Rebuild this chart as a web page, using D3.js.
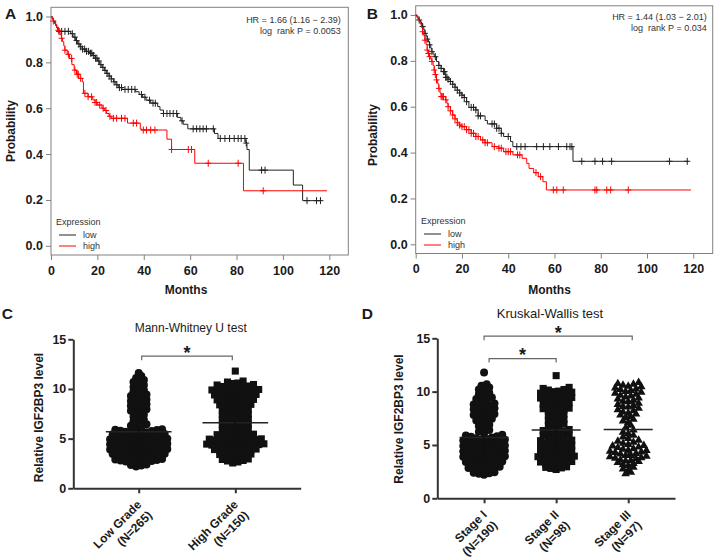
<!DOCTYPE html>
<html><head><meta charset="utf-8">
<script src="https://cdn.jsdelivr.net/npm/d3@7"></script>
<style>body{margin:0;background:#fff}svg{display:block}</style>
</head><body><svg id="c" width="718" height="559"></svg>
<script>
// ---------------- DATA ----------------
const monthTicks = [0, 20, 40, 60, 80, 100, 120];
const probTicks = [0, 0.2, 0.4, 0.6, 0.8, 1.0];
const levelTicks = [0, 5, 10, 15];
const expressionGroups = ["low", "high"];

// Panel A (time, survival after step)
const aLowSteps = [[0,1.0],[0.5,0.99],[1,0.98],[1.5,0.97],[2,0.96],[2.5,0.95],[3,0.935],[8.5,0.925],[9.5,0.91],[10.5,0.895],[11.5,0.88],[12.5,0.868],[13.5,0.858],[15,0.848],[16.5,0.84],[18,0.83],[19,0.818],[20,0.806],[21,0.79],[22,0.778],[23,0.765],[24,0.752],[25,0.74],[26,0.728],[27,0.715],[28,0.702],[29,0.69],[30.5,0.682],[36.5,0.672],[38,0.66],[39.5,0.648],[41,0.635],[43,0.622],[46,0.607],[47,0.592],[48.5,0.577],[54.5,0.56],[56,0.545],[57,0.53],[59,0.51],[70.5,0.49],[72,0.468],[84,0.448],[84.5,0.42],[85.5,0.33],[104.5,0.265],[108.5,0.197]];
const aLowEnd = 116.6;
const aLowCensor = [3.5,4.6,6,7.5,9.2,10.3,11,12,12.8,13.6,14.5,15.3,16.2,17,17.6,18.4,19.2,19.8,20.6,21.5,22.4,23.3,24.2,25.1,26,27.2,28.4,29.5,30.4,31.9,33.3,34.8,36.2,39,40.5,42.5,44,45,48.5,50,51.3,52.7,54.2,56.5,61.3,62.8,64.2,65.6,67,70,73,75,77,79,80.7,82,83.6,84.2,90.8,92.3,110.4,114.5,116.2];
const aHighSteps = [[0,1.0],[0.5,0.99],[1,0.98],[2,0.965],[2.5,0.95],[3,0.94],[3.5,0.93],[4,0.92],[4.5,0.905],[5,0.89],[5.5,0.872],[6,0.853],[7,0.835],[8,0.817],[9,0.79],[10,0.766],[11,0.748],[12,0.73],[13.5,0.715],[14,0.665],[16,0.65],[18,0.636],[19,0.625],[20,0.614],[22,0.6],[23,0.59],[24,0.577],[25,0.565],[26,0.556],[33,0.535],[38.5,0.51],[39,0.505],[50,0.465],[52,0.42],[62,0.36],[83,0.24]];
const aHighEnd = 119;
const aHighCensor = [1,3.2,4.6,6,7.5,8.9,10.3,11.3,11.8,12.8,14.6,16,17.5,19,19.7,21,22.5,23.7,25.4,26.9,28.3,30.4,31.9,35.5,36.9,39.8,41.2,43,44.8,52,59.2,60.6,67.8,80.7,91.5];
const aStats = ["HR = 1.66 (1.16 \u2212 2.39)", "log  rank P = 0.0053"];

// Panel B
const bLowSteps = [[0,1.0],[0.5,0.995],[1,0.985],[1.5,0.978],[2,0.97],[2.5,0.96],[3,0.95],[3.5,0.935],[4,0.92],[4.5,0.908],[5,0.895],[5.5,0.882],[6,0.87],[6.5,0.855],[7,0.84],[7.5,0.83],[8,0.818],[9,0.797],[10,0.78],[11,0.767],[12,0.753],[13,0.728],[14,0.72],[15,0.71],[16,0.698],[17,0.685],[18,0.672],[19,0.66],[20,0.65],[21,0.64],[22,0.622],[23,0.597],[26,0.586],[27,0.56],[30,0.54],[31,0.525],[35,0.506],[37,0.484],[38,0.47],[41,0.448],[42,0.426],[68,0.362]];
const bLowEnd = 117.9;
const bLowCensor = [1.5,3,4,5,6,7,8.5,10,11,12,12.5,13,13.5,14,15,16,17,18,19,20,21,22,24,25,26,27,28,33,34,35,36,37,40,43.7,45.5,47.3,52.3,55.2,58,61.7,65.3,66.7,67.5,71.8,77.5,80.8,84.7,109.7,117.4];
const bHighSteps = [[0,1.0],[0.5,0.99],[1,0.98],[1.5,0.97],[2,0.96],[2.5,0.945],[3,0.927],[3.5,0.91],[4,0.89],[4.5,0.87],[5,0.847],[5.5,0.832],[6,0.818],[6.5,0.808],[7,0.797],[7.5,0.78],[8,0.76],[8.5,0.74],[9,0.717],[9.5,0.7],[10,0.68],[10.5,0.66],[11,0.644],[13,0.63],[13.5,0.615],[14,0.6],[15,0.582],[16,0.564],[17,0.547],[18,0.53],[19,0.52],[20,0.513],[22,0.5],[24,0.484],[26,0.47],[28,0.455],[30,0.443],[33,0.426],[36,0.419],[38,0.404],[42,0.39],[46,0.375],[48,0.353],[49,0.331],[51,0.3125],[53,0.295],[55,0.273],[56.5,0.237]];
const bHighEnd = 119;
const bHighCensor = [3,4,5,5.5,6,7,8,8.5,9,10,11,11.5,12,13,14,15,16,17,18,19,20,21,22,23,24,25,26,27,29,30,31,34,36,37,39,40,41,44,45,52,54,59.5,61,63.8,77.5,78.3,82.6,84.3,91.9];
const bStats = ["HR = 1.44 (1.03 \u2212 2.01)", "log  rank P = 0.034"];

// Panel C
const gradeCategories = [["Low Grade", "(N=265)"], ["High Grade", "(N=150)"]];
const lowGrade = [2.2,2.3,2.35,2.4,
2.5,2.55,2.6,2.65,2.7,2.75,2.8,2.85,2.9,2.95,
3.0,3.05,3.1,3.2,3.25,3.3,3.35,3.4,3.42,3.45,3.48,
3.5,3.53,3.56,3.6,3.64,3.68,3.7,3.75,3.8,3.85,3.9,3.96,
4.0,4.04,4.08,4.12,4.16,4.2,4.25,4.3,4.35,4.4,4.44,4.48,
4.5,4.53,4.57,4.6,4.64,4.7,4.74,4.8,4.85,4.9,4.94,4.98,
5.0,5.05,5.1,5.14,5.2,5.25,5.3,5.36,5.4,5.45,5.48,
5.5,5.54,5.6,5.65,5.7,5.76,5.8,5.86,5.9,5.95,
6.05,6.2,6.3,6.45,6.6,6.75,6.9,7.05,7.2,7.4,7.55,7.7,7.8,7.95,
8.05,8.2,8.3,8.45,8.55,8.7,8.8,8.95,9.05,9.15,9.3,9.45,9.6,9.75,9.9,
10.05,10.2,10.4,10.55,10.7,10.9,11.1,11.3,11.6];
const highGrade = [2.55,2.65,2.75,2.8,2.9,2.95,
3.0,3.1,3.15,3.25,3.3,3.4,3.45,
3.5,3.55,3.6,3.7,3.75,3.8,3.85,3.9,3.95,
4.0,4.05,4.1,4.15,4.2,4.25,4.3,4.32,4.35,4.4,4.45,4.48,
4.5,4.55,4.6,4.65,4.7,4.75,4.8,4.85,4.9,4.95,4.98,
5.0,5.1,5.15,5.2,5.3,5.35,5.4,5.45,
5.55,5.6,5.7,5.8,5.85,5.95,
6.0,6.1,6.2,6.3,6.4,6.45,
6.55,6.6,6.7,6.8,6.9,6.95,
7.05,7.1,7.2,7.3,7.4,7.45,
7.5,7.6,7.7,7.8,7.85,7.95,
8.0,8.1,8.15,8.2,8.3,8.4,8.45,
8.5,8.55,8.6,8.7,8.75,8.8,8.9,8.95,
9.0,9.05,9.1,9.2,9.25,9.3,9.35,9.4,9.45,
9.5,9.55,9.6,9.65,9.7,9.75,9.8,9.85,9.9,9.95,
10.0,10.05,10.1,10.2,10.25,10.3,10.4,10.45,
10.55,10.6,10.7,10.8,11.8];
const gradeMeans = [5.7, 6.6];
const gradeSDs = [2.3, 2.4];

// Panel D
const stageCategories = [["Stage I", "(N=190)"], ["Stage II", "(N=98)"], ["Stage III", "(N=97)"]];
const stageI = [2.2,2.3,2.35,2.4,2.45,
2.5,2.6,2.65,2.7,2.8,2.85,2.95,
3.0,3.05,3.15,3.2,3.3,3.35,3.4,3.45,
3.5,3.55,3.6,3.65,3.7,3.78,3.85,3.9,3.95,
4.0,4.05,4.1,4.18,4.25,4.3,4.35,4.4,4.46,
4.5,4.55,4.6,4.66,4.72,4.8,4.85,4.9,4.96,
5.0,5.05,5.1,5.18,5.25,5.3,5.36,5.42,5.48,
5.5,5.56,5.62,5.7,5.76,5.82,5.9,5.96,
6.1,6.25,6.4,6.6,6.75,6.9,7.05,7.2,7.3,7.45,
7.5,7.6,7.7,7.8,7.9,8.05,8.15,8.25,8.35,8.45,
8.5,8.6,8.7,8.8,8.9,9.05,9.2,9.3,9.45,9.6,9.75,9.9,
10.05,10.2,10.4,10.55,10.7,11.8];
const stageII = [2.7,2.8,2.85,2.9,2.95,
3.0,3.05,3.1,3.2,3.3,3.4,3.45,
3.5,3.55,3.65,3.7,3.8,3.85,3.9,3.95,
4.0,4.1,4.15,4.25,4.3,4.4,4.45,
4.5,4.6,4.65,4.75,4.8,4.9,4.95,
5.0,5.05,5.15,5.2,5.3,5.4,5.45,
5.55,5.6,5.7,5.8,5.85,5.95,
6.0,6.1,6.2,6.3,6.35,6.45,
6.55,6.7,6.8,6.95,7.05,7.2,7.3,7.4,7.55,7.65,7.8,7.9,
8.0,8.1,8.2,8.3,8.4,8.45,8.5,8.6,8.7,8.75,8.85,8.95,
9.0,9.1,9.15,9.25,9.3,9.4,9.45,9.5,9.55,9.65,9.7,9.8,9.85,9.95,
10.0,10.05,10.15,10.2,10.3,10.4,11.5];
const stageIII = [2.3,2.45,2.6,2.75,2.9,
3.05,3.15,3.25,3.35,3.45,
3.5,3.55,3.6,3.7,3.75,3.8,3.9,3.95,
4.0,4.05,4.15,4.2,4.3,4.35,4.4,4.48,
4.5,4.6,4.65,4.75,4.8,4.9,4.95,
5.05,5.15,5.25,5.35,5.45,5.6,5.75,5.9,
6.05,6.2,6.4,6.6,6.85,7.1,7.25,7.4,
7.55,7.65,7.8,7.9,8.0,8.1,8.2,8.3,8.45,
8.55,8.6,8.7,8.8,8.9,9.05,9.1,9.2,9.3,9.4,
9.5,9.6,9.65,9.75,9.85,9.95,10.0,10.1,10.2,10.25,10.35,10.45,
10.5,10.6,10.7,10.75,10.85];
const stageMeans = [5.7, 6.4, 6.45];
const stageSDs = [2.3, 2.5, 2.6];

// ---------------- DRAWING ----------------
const FONT = '"Liberation Sans", Arial, Helvetica, sans-serif';
const svg = d3.select("#c");
svg.append("rect").attr("width", 718).attr("height", 559).attr("fill", "#fff");

function label(t, x, y, size, weight, anchor, extra) {
  const el = svg.append("text").attr("x", x).attr("y", y).attr("font-family", FONT)
    .attr("font-size", size).attr("font-weight", weight || "normal")
    .attr("text-anchor", anchor || "start").attr("fill", "#1a1a1a").style("white-space", "pre").text(t);
  if (extra) extra(el);
  return el;
}

function drawKM(p) {
  const x = d3.scaleLinear().domain([0, p.xMax]).range([p.left, p.right]);
  const y = d3.scaleLinear().domain([-0.04, 1.04]).range([p.bottom, p.top]);
  const g = svg.append("g");
  g.append("rect").attr("x", p.left).attr("y", p.top).attr("width", p.right - p.left)
    .attr("height", p.bottom - p.top).attr("fill", "none").attr("stroke", "#808080").attr("stroke-width", 1);
  const gx = g.append("g").attr("transform", `translate(0,${p.bottom})`)
    .call(d3.axisBottom(x).tickValues(monthTicks).tickSize(5).tickPadding(6).tickSizeOuter(0));
  const gy = g.append("g").attr("transform", `translate(${p.left},0)`)
    .call(d3.axisLeft(y).tickValues(probTicks).tickFormat(d3.format(".1f")).tickSize(5).tickPadding(3).tickSizeOuter(0));
  [gx, gy].forEach(a => {
    a.select(".domain").remove();
    a.selectAll("line").attr("stroke", "#808080");
    a.attr("font-family", FONT).attr("font-size", 12.5).attr("font-weight", "bold");
    a.selectAll("text").attr("fill", "#1a1a1a");
  });
  const line = d3.line().x(d => x(d[0])).y(d => y(d[1])).curve(d3.curveStepAfter);
  p.series.forEach(s => {
    const pts = s.steps.concat([[s.end, s.steps[s.steps.length - 1][1]]]);
    g.append("path").attr("d", line(pts)).attr("fill", "none").attr("stroke", s.color).attr("stroke-width", 1);
    const survAt = t => { let v = 1; for (const st of s.steps) { if (st[0] <= t) v = st[1]; } return v; };
    g.append("path").attr("fill", "none").attr("stroke", s.color).attr("stroke-width", 1)
      .attr("d", s.censor.map(t => `M${x(t) - 3},${y(survAt(t))}h6M${x(t)},${y(survAt(t)) - 3.5}v7`).join(""));
  });
  // stats
  label(p.stats[0], p.statsX, p.statsY, 9, "normal", "end").attr("fill", "#333");
  label(p.stats[1], p.statsX, p.statsY + 11, 9, "normal", "end").attr("fill", "#333");
  // legend
  label("Expression", p.legX, p.legY, 9, "normal", "start").attr("fill", "#333");
  p.series.forEach((s, i) => {
    const ly = p.legY + 10.5 + i * 11;
    g.append("line").attr("x1", p.legX + 3).attr("x2", p.legX + 20).attr("y1", ly).attr("y2", ly)
      .attr("stroke", s.color).attr("stroke-width", 1);
    label(expressionGroups[i], p.legX + 27, ly + 3.3, 9, "normal", "start").attr("fill", "#333");
  });
  // axis titles
  label("Months", p.monthsX, 294, 12, "bold", "middle");
  label("Probability", 0, 0, 12, "bold", "middle", el => el.attr("transform", `translate(${p.probX},${p.probY}) rotate(-90)`));
  label(p.tag, p.tagX, 18.5, 15.5, "bold", "start");
}

drawKM({ left: 51, right: 348.3, top: 7.3, bottom: 255, xMax: 128.2,
  series: [
    { steps: aLowSteps, end: aLowEnd, censor: aLowCensor, color: "#222" },
    { steps: aHighSteps, end: aHighEnd, censor: aHighCensor, color: "#f00" }],
  stats: aStats, statsX: 340.7, statsY: 22.5, legX: 56, legY: 224.5,
  monthsX: 186, probX: 15.3, probY: 131, tag: "A", tagX: 5 });

drawKM({ left: 415.7, right: 712.7, top: 5.8, bottom: 253.5, xMax: 128.4,
  series: [
    { steps: bLowSteps, end: bLowEnd, censor: bLowCensor, color: "#222" },
    { steps: bHighSteps, end: bHighEnd, censor: bHighCensor, color: "#f00" }],
  stats: bStats, statsX: 706.7, statsY: 20, legX: 421, legY: 223.5,
  monthsX: 549.5, probX: 376.9, probY: 135, tag: "B", tagX: 366.7 });

function swarm(values, binSize, dx) {
  const sorted = values.slice().sort((a, b) => a - b);
  const bins = d3.group(sorted, v => Math.floor(v / binSize + 1e-9));
  const out = [];
  for (const [, arr] of bins) {
    const n = arr.length;
    const slots = d3.range(n).map(j => (j - (n - 1) / 2) * dx);
    slots.sort((a, b) => Math.abs(a) - Math.abs(b) || a - b);
    arr.forEach((v, i) => out.push({ v, off: slots[i] }));
  }
  return out;
}

function drawScatter(p) {
  const y = d3.scaleLinear().domain([0, 15]).range([p.y0, p.y15]);
  const x = d3.scalePoint().domain(d3.range(p.cats.length)).range([p.axisLeft, p.axisRight]).padding(p.pad);
  const g = svg.append("g");
  const step = x.step();
  // points
  p.groups.forEach((vals, i) => {
    const sym = d3.symbol().type(p.shapes[i]).size(p.sizes[i]);
    g.append("g").selectAll("path").data(swarm(vals, 0.5, 5.2)).join("path")
      .attr("d", sym).attr("fill", "#111")
      .attr("transform", d => `translate(${x(i) + d.off},${y(d.v)})`);
  });
  // mean & SD
  p.means.forEach((m, i) => {
    const cx = x(i), hw = 0.34 * step, cw = 0.09 * step, sd = p.sds[i];
    const gl = g.append("g").attr("stroke", "#222").attr("stroke-width", 1.6);
    gl.append("line").attr("x1", cx - hw).attr("x2", cx + hw).attr("y1", y(m)).attr("y2", y(m));
    gl.append("line").attr("x1", cx).attr("x2", cx).attr("y1", y(m - sd)).attr("y2", y(m + sd)).attr("stroke", "#111");
    [m - sd, m + sd].forEach(v => gl.append("line").attr("x1", cx - cw).attr("x2", cx + cw).attr("y1", y(v)).attr("y2", y(v)).attr("stroke", "#111"));
  });
  // axes
  const gy = g.append("g").attr("transform", `translate(${p.axisLeft},0)`)
    .call(d3.axisLeft(y).tickValues(levelTicks).tickSize(5).tickPadding(2).tickSizeOuter(0));
  const gx = g.append("g").attr("transform", `translate(0,${p.y0})`)
    .call(d3.axisBottom(x).tickSize(5).tickSizeOuter(0).tickFormat(""));
  [gx, gy].forEach(a => {
    a.select(".domain").attr("stroke", "#333").attr("stroke-width", 2);
    a.selectAll("line").attr("stroke", "#333").attr("stroke-width", 2);
    a.attr("font-family", FONT).attr("font-size", 12.5).attr("font-weight", "bold");
    a.selectAll("text").attr("fill", "#1a1a1a");
  });
  // category labels
  p.cats.forEach((c, i) => {
    const t = svg.append("text").attr("font-family", FONT).attr("font-size", 12).attr("font-weight", "bold")
      .attr("fill", "#1a1a1a").attr("text-anchor", "end")
      .attr("transform", `translate(${x(i) + 3.5},${p.y0 + 17}) rotate(-45)`);
    t.append("tspan").attr("x", 0).attr("dy", 0).text(c[0]);
    t.append("tspan").attr("x", 0).attr("dy", 15).text(c[1]);
  });
  // brackets
  p.brackets.forEach(b => {
    const x1 = x(b.a) + b.inset[0], x2 = x(b.b) + b.inset[1], by = y(b.level);
    g.append("path").attr("fill", "none").attr("stroke", "#666").attr("stroke-width", 1.2)
      .attr("d", `M${x1},${by + 4}V${by}H${x2}V${by + 4}`);
    label("*", (x1 + x2) / 2, by + 2.5, 18, "bold", "middle");
  });
  label(p.title, p.titleX, p.titleY, p.titleSize, "normal", "middle");
  label("Relative IGF2BP3 level", 0, 0, 12, "bold", "middle", el => el.attr("transform", `translate(${p.ylabX},${p.ylabY}) rotate(-90)`));
  label(p.tag, p.tagX, 318.5, 15.5, "bold", "start");
}

drawScatter({ y0: 488.3, y15: 339.3, axisLeft: 73.3, axisRight: 300.7, pad: 0.677,
  cats: gradeCategories, groups: [lowGrade, highGrade],
  shapes: [d3.symbolCircle, d3.symbolSquare], sizes: [50, 50],
  means: gradeMeans, sds: gradeSDs,
  brackets: [{ a: 0, b: 1, level: 13.3, inset: [3, -3] }],
  title: "Mann-Whitney U test", titleX: 190.7, titleY: 332, titleSize: 12,
  ylabX: 42.6, ylabY: 417.5, tag: "C", tagX: 1.7 });

drawScatter({ y0: 498.3, y15: 338.3, axisLeft: 437.3, axisRight: 675, pad: 0.649,
  cats: stageCategories, groups: [stageI, stageII, stageIII],
  shapes: [d3.symbolCircle, d3.symbolSquare, d3.symbolTriangle], sizes: [50, 50, 32],
  means: stageMeans, sds: stageSDs,
  brackets: [{ a: 0, b: 2, level: 15.2, inset: [0, 4] }, { a: 0, b: 1, level: 13.1, inset: [5, 0] }],
  title: "Kruskal-Wallis test", titleX: 550, titleY: 317.5, titleSize: 13,
  ylabX: 402.6, ylabY: 419, tag: "D", tagX: 361.7 });
</script></body></html>
